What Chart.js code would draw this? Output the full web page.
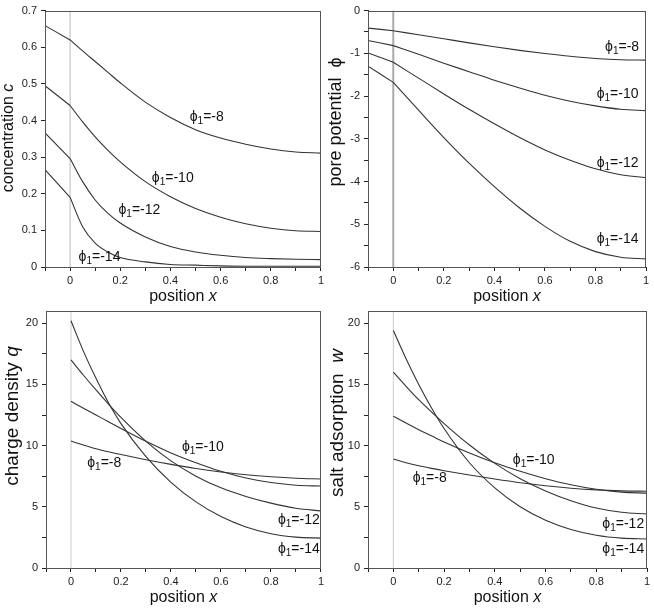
<!DOCTYPE html>
<html lang="en">
<head>
<meta charset="UTF-8">
<title>Pore profiles</title>
<script src="https://cdn.jsdelivr.net/npm/chart.js"></script>
<style>
  body { margin: 0; background: #fff; }
  .wrap { position: relative; width: 654px; height: 610px; overflow: hidden; }
  .panel { position: absolute; width: 327px; height: 310px; }
  .panel canvas { display: block; }
</style>
</head>
<body>
<div class="wrap">
  <div class="panel" style="left:0;top:0"><canvas id="concChart" width="327" height="310"></canvas></div>
  <div class="panel" style="left:327px;top:0"><canvas id="phiChart" width="327" height="310"></canvas></div>
  <div class="panel" style="left:0;top:300px"><canvas id="chargeChart" width="327" height="310"></canvas></div>
  <div class="panel" style="left:327px;top:300px"><canvas id="saltChart" width="327" height="310"></canvas></div>
</div>

<script>
// curve names, phi_1 values
const curveNames = ['-8', '-10', '-12', '-14'];

// x positions
const xBath = [-0.1, 0];
const xPore = [0, 0.05, 0.1, 0.15, 0.2, 0.3, 0.4, 0.5, 0.6, 0.7, 0.8, 0.9, 1];
const xPhi = [0, 0.1, 0.2, 0.3, 0.4, 0.5, 0.6, 0.7, 0.8, 0.9, 1];

// concentration c
const concBath = [
  [0.659, 0.620],
  [0.495, 0.441],
  [0.366, 0.296],
  [0.266, 0.190]
];
const concPore = [
  [0.620, 0.590, 0.561, 0.532, 0.503, 0.450, 0.408, 0.375, 0.352, 0.335, 0.322, 0.314, 0.311],
  [0.441, 0.396, 0.355, 0.319, 0.287, 0.233, 0.192, 0.160, 0.136, 0.118, 0.106, 0.099, 0.097],
  [0.296, 0.233, 0.183, 0.147, 0.120, 0.082, 0.056, 0.041, 0.032, 0.026, 0.023, 0.021, 0.020],
  [0.190, 0.110, 0.065, 0.041, 0.026, 0.014, 0.007, 0.005, 0.003, 0.002, 0.002, 0.002, 0.002]
];

// pore potential phi
const phiBath = [
  [-0.41, -0.47],
  [-0.70, -0.82],
  [-0.99, -1.21],
  [-1.30, -1.68]
];
const phiPore = [
  [-0.47, -0.565, -0.66, -0.755, -0.845, -0.93, -1.005, -1.07, -1.12, -1.15, -1.16],
  [-0.82, -1.02, -1.23, -1.43, -1.63, -1.81, -1.98, -2.12, -2.23, -2.31, -2.34],
  [-1.21, -1.58, -1.95, -2.31, -2.65, -2.97, -3.26, -3.50, -3.70, -3.84, -3.91],
  [-1.68, -2.33, -2.97, -3.57, -4.12, -4.62, -5.05, -5.40, -5.64, -5.77, -5.81]
];

// charge density q
const chargePore = [
  [10.37, 10.05, 9.75, 9.5, 9.27, 8.85, 8.47, 8.13, 7.85, 7.62, 7.45, 7.33, 7.27],
  [13.62, 13.05, 12.5, 11.95, 11.4, 10.35, 9.4, 8.6, 7.9, 7.35, 6.98, 6.76, 6.7],
  [17.0, 15.75, 14.55, 13.4, 12.3, 10.35, 8.75, 7.5, 6.55, 5.85, 5.3, 4.88, 4.67],
  [20.2, 17.7, 15.5, 13.5, 11.8, 9.1, 7.0, 5.4, 4.2, 3.35, 2.8, 2.52, 2.44]
];

// salt adsorption w
const saltPore = [
  [8.9, 8.6, 8.35, 8.14, 7.95, 7.6, 7.27, 6.97, 6.72, 6.52, 6.38, 6.3, 6.27],
  [12.4, 11.85, 11.3, 10.8, 10.3, 9.4, 8.6, 7.9, 7.3, 6.8, 6.43, 6.2, 6.12],
  [16.0, 14.85, 13.75, 12.75, 11.8, 10.05, 8.55, 7.3, 6.3, 5.5, 4.9, 4.55, 4.41],
  [19.4, 17.1, 15.0, 13.1, 11.4, 8.6, 6.55, 5.0, 3.9, 3.15, 2.68, 2.44, 2.37]
];

// y ranges (also used for the x = 0 marker line)
const concRange = [0, 0.7];
const phiRange = [-6, 0];
const chargeRange = [0, 21];
const saltRange = [0, 21];

const FONT = "'Liberation Sans', Arial, 'DejaVu Sans', sans-serif";
const INK = '#333';

function toPoints(xs, ys) {
  return ys.map((v, i) => ({ x: xs[i], y: v }));
}

function lineSets(xs, rows) {
  return rows.map(r => ({
    data: toPoints(xs, r),
    borderColor: INK,
    borderWidth: 1.1,
    pointRadius: 0,
    fill: false,
    cubicInterpolationMode: 'monotone'
  }));
}

function zeroLine(range, color, width) {
  return {
    data: [{ x: 0, y: range[0] }, { x: 0, y: range[1] }],
    borderColor: color,
    borderWidth: width,
    pointRadius: 0,
    fill: false
  };
}

// draws run of text pieces [text, italic]
function drawRuns(ctx, runs, size, cx, cy) {
  const w = runs.reduce((s, r) => {
    ctx.font = (r[1] ? 'italic ' : '') + size + 'px ' + FONT;
    return s + ctx.measureText(r[0]).width;
  }, 0);
  let x = cx - w / 2;
  runs.forEach(r => {
    ctx.font = (r[1] ? 'italic ' : '') + size + 'px ' + FONT;
    ctx.fillText(r[0], x, cy);
    x += ctx.measureText(r[0]).width;
  });
}

const panelText = {
  id: 'panelText',
  afterDraw(chart, args, opts) {
    const ctx = chart.ctx;
    const a = chart.chartArea;
    const xs = chart.scales.x, ys = chart.scales.y;
    ctx.save();

    // box round the plot
    ctx.strokeStyle = '#555';
    ctx.lineWidth = 1;
    ctx.strokeRect(Math.round(a.left) + 0.5, Math.round(a.top) + 0.5,
      Math.round(a.right - a.left) - 1, Math.round(a.bottom - a.top));

    ctx.fillStyle = '#111';
    ctx.textBaseline = 'middle';

    // x title
    drawRuns(ctx, [['position ', false], ['x', true]], 16, (a.left + a.right) / 2, opts.xTitleY);

    // y title
    ctx.save();
    ctx.translate(opts.yTitle.x, opts.yTitle.y);
    ctx.rotate(-Math.PI / 2);
    drawRuns(ctx, opts.yTitle.runs, opts.yTitle.size, 0, 0);
    ctx.restore();

    // curve labels
    opts.labels.forEach((p, i) => {
      let x = xs.getPixelForValue(p[0]);
      const y = ys.getPixelForValue(p[1]);
      ctx.font = '14px ' + FONT;
      ctx.fillText('\u03d5', x, y);
      x += ctx.measureText('\u03d5').width;
      ctx.font = '10px ' + FONT;
      ctx.fillText('1', x, y + 4);
      x += ctx.measureText('1').width;
      ctx.font = '14px ' + FONT;
      ctx.fillText('=' + curveNames[i], x, y);
    });
    ctx.restore();
  }
};

function xTickLabel(v) {
  const k = Math.round(v * 10);
  if (k < 0 || k % 2 !== 0) return '';
  return k === 0 ? '0' : k === 10 ? '1' : String(k / 10);
}

function makeChart(id, cfg) {
  return new Chart(document.getElementById(id), {
    type: 'line',
    data: { datasets: cfg.datasets },
    options: {
      responsive: false,
      animation: false,
      layout: { padding: cfg.pad },
      plugins: {
        legend: { display: false },
        tooltip: { enabled: false },
        panelText: cfg.text
      },
      scales: {
        x: {
          type: 'linear',
          min: -0.1,
          max: 1,
          afterFit: s => { s.height = cfg.xh; },
          grid: { drawOnChartArea: false, tickLength: 4, color: '#222' },
          border: { color: '#222' },
          ticks: {
            stepSize: 0.1,
            autoSkip: false,
            maxRotation: 0,
            includeBounds: false,
            padding: 3,
            color: '#222',
            font: { family: FONT, size: 11 },
            callback: xTickLabel
          }
        },
        y: {
          type: 'linear',
          min: cfg.yMin,
          max: cfg.yMax,
          afterFit: s => { s.width = cfg.yw; },
          grid: { drawOnChartArea: false, tickLength: 4, color: '#222' },
          border: { color: '#222' },
          ticks: {
            stepSize: cfg.yStep,
            autoSkip: false,
            includeBounds: false,
            padding: 4,
            color: '#222',
            font: { family: FONT, size: 11 },
            callback: cfg.yLabel
          }
        }
      }
    },
    plugins: [panelText]
  });
}

makeChart('concChart', {
  datasets: [...lineSets(xBath, concBath), ...lineSets(xPore, concPore), zeroLine(concRange, '#bbb', 1)],
  pad: { top: 10, right: 5, left: 0, bottom: 0 },
  yw: 45, xh: 43,
  yMin: concRange[0], yMax: concRange[1], yStep: 0.1,
  yLabel: v => (Math.abs(v) < 1e-9 ? '0' : v.toFixed(1)),
  text: {
    xTitleY: 297,
    yTitle: { x: 9, y: 138, size: 16, runs: [['concentration ', false], ['c', true]] },
    labels: [[0.477, 0.409], [0.326, 0.243], [0.193, 0.154], [0.034, 0.026]]
  }
});

makeChart('phiChart', {
  datasets: [...lineSets(xBath, phiBath), ...lineSets(xPhi, phiPore), zeroLine(phiRange, '#aaa', 2)],
  pad: { top: 10, right: 8, left: 0, bottom: 0 },
  yw: 41, xh: 43,
  yMin: phiRange[0], yMax: phiRange[1], yStep: 0.5,
  yLabel: v => (Number.isInteger(v) ? String(v) : ''),
  text: {
    xTitleY: 297,
    yTitle: { x: 9, y: 122, size: 18, runs: [['pore potential  ', false], ['\u03d5', false]] },
    labels: [[0.838, -0.862], [0.805, -1.947], [0.805, -3.578], [0.805, -5.35]]
  }
});

makeChart('chargeChart', {
  datasets: [...lineSets(xPore, chargePore), zeroLine(chargeRange, '#ccc', 1)],
  pad: { top: 11, right: 4, left: 0, bottom: 0 },
  yw: 46, xh: 42,
  yMin: chargeRange[0], yMax: chargeRange[1], yStep: 2.5,
  yLabel: v => (v % 5 === 0 ? String(v) : ''),
  text: {
    xTitleY: 298,
    yTitle: { x: 13, y: 116, size: 19, runs: [['charge density ', false], ['q', true]] },
    labels: [[0.065, 8.55], [0.444, 9.9], [0.828, 3.88], [0.828, 1.55]]
  }
});

makeChart('saltChart', {
  datasets: [...lineSets(xPore, saltPore), zeroLine(saltRange, '#ccc', 1)],
  pad: { top: 11, right: 7, left: 0, bottom: 0 },
  yw: 41, xh: 42,
  yMin: saltRange[0], yMax: saltRange[1], yStep: 2.5,
  yLabel: v => (v % 5 === 0 ? String(v) : ''),
  text: {
    xTitleY: 298,
    yTitle: { x: 11, y: 123, size: 19, runs: [['salt adsorption  ', false], ['w', true]] },
    labels: [[0.076, 7.35], [0.471, 8.84], [0.824, 3.59], [0.824, 1.55]]
  }
});
</script>
</body>
</html>
